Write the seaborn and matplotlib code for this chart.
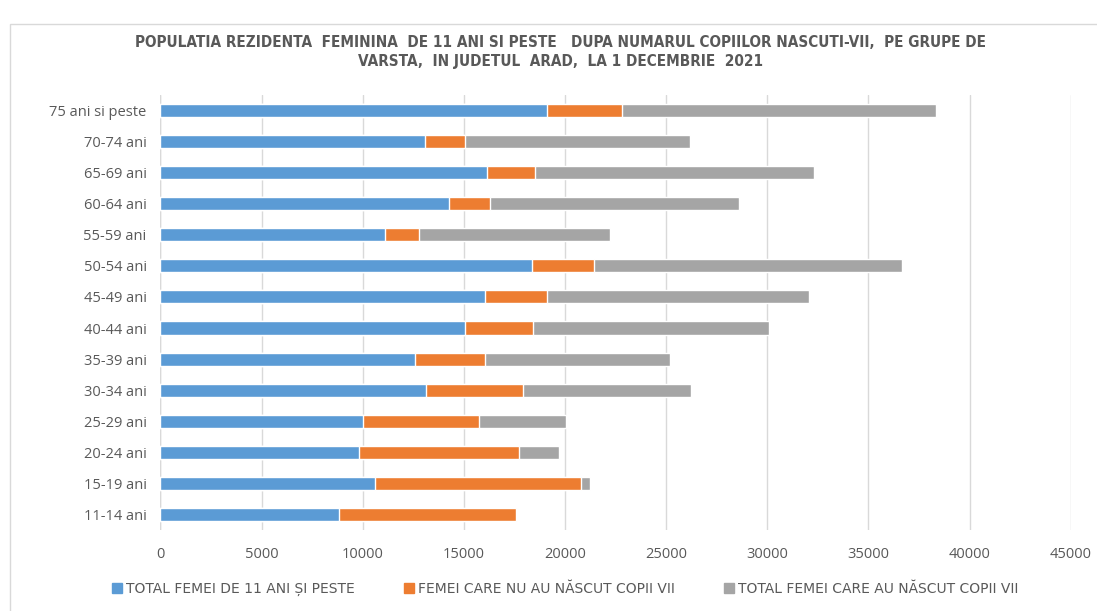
import numpy as np
import pandas as pd
import matplotlib
matplotlib.use("Agg")
import matplotlib.pyplot as plt
import seaborn as sns
from matplotlib.patches import Rectangle
from matplotlib.lines import Line2D

# age groups, top to bottom as in the chart
grupe = ["75 ani si peste", "70-74 ani", "65-69 ani", "60-64 ani", "55-59 ani",
         "50-54 ani", "45-49 ani", "40-44 ani", "35-39 ani", "30-34 ani",
         "25-29 ani", "20-24 ani", "15-19 ani", "11-14 ani"]

# values
total_femei = [19110, 13070, 16160, 14270, 11090, 18350, 16050, 15040,
               12590, 13150, 10000, 9820, 10600, 8820]
nu_au_nascut = [3690, 1970, 2340, 2040, 1680, 3080, 3060, 3380,
                3440, 4770, 5730, 7900, 10210, 8740]
au_nascut = [15530, 11130, 13830, 12270, 9440, 15250, 12930, 11660,
             9170, 8330, 4300, 1970, 440, 70]

df = pd.DataFrame({"grupa": grupe, "total": total_femei,
                   "nu": nu_au_nascut, "da": au_nascut})
# stacked ends
df["end_nu"] = df["total"] + df["nu"]
df["end_da"] = df["end_nu"] + df["da"]

albastru = "#5B9BD5"
portocaliu = "#ED7D31"
gri = "#A5A5A5"
text_col = "#595959"

sns.set_theme(style="white")
plt.rcParams['font.family'] = ['DejaVu Sans']

fig = plt.figure(figsize=(10.97, 6.11), dpi=100)
ax = fig.add_axes([0.1463, 0.1326, 0.8297, 0.712])

# draw the longest first so shorter ones sit on top (stacked look)
sns.barplot(data=df, y="grupa", x="end_da", color=gri, width=0.42,
            orient="h", ax=ax, saturation=1)
sns.barplot(data=df, y="grupa", x="end_nu", color=portocaliu, width=0.42,
            orient="h", ax=ax, saturation=1)
sns.barplot(data=df, y="grupa", x="total", color=albastru, width=0.42,
            orient="h", ax=ax, saturation=1)

ax.set_xlim(0, 45000)
ax.set_ylim(13.5, -0.5)
ax.set_xticks(np.arange(0, 45001, 5000))
ax.set_xlabel("")
ax.set_ylabel("")
ax.grid(axis="x", color="#D9D9D9", linewidth=1)
ax.set_axisbelow(True)
for s in ax.spines.values():
    s.set_visible(False)
ax.axvline(0, color="#D9D9D9", linewidth=1, zorder=0)
ax.tick_params(axis="both", length=0, colors=text_col)
ax.tick_params(axis="x", pad=12)
ax.tick_params(axis="y", pad=10)
for lab in ax.get_xticklabels() + ax.get_yticklabels():
    lab.set_family(['Open Sans', 'DejaVu Sans'])
    lab.set_fontsize(10.5)

titlu = dict(ha="center", va="center", fontsize=11, fontweight="bold",
             color=text_col, fontstretch="condensed")
fig.text(0.511, 0.931, "POPULATIA REZIDENTA  FEMININA  DE 11 ANI SI PESTE   DUPA NUMARUL COPIILOR NASCUTI-VII,  PE GRUPE DE", **titlu)
fig.text(0.511, 0.899, "VARSTA,  IN JUDETUL  ARAD,  LA 1 DECEMBRIE  2021", **titlu)

handles = [Line2D([], [], marker="s", linestyle="", color=c, markersize=7)
           for c in [albastru, portocaliu, gri]]
labels = ["TOTAL FEMEI DE 11 ANI ȘI PESTE", "FEMEI CARE NU AU NĂSCUT COPII VII",
          "TOTAL FEMEI CARE AU NĂSCUT COPII VII"]
leg = fig.legend(handles, labels, loc="center", bbox_to_anchor=(0.515, 0.036),
                 ncol=3, frameon=False, fontsize=10, labelcolor=text_col,
                 handletextpad=0.25, columnspacing=3.5, handlelength=0.8)

# outer chart border
fig.patches.append(Rectangle((0.009, -0.01), 1.0, 0.97, transform=fig.transFigure,
                             fill=False, edgecolor="#D9D9D9", linewidth=1))

fig.savefig("out.png", dpi=100)
